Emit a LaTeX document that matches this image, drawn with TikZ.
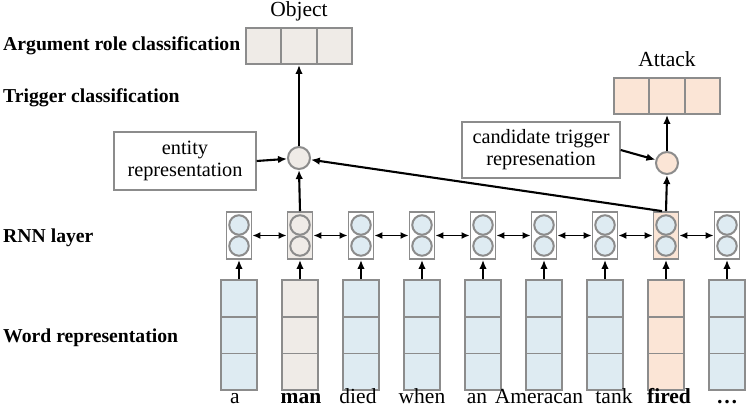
\documentclass[tikz,border=0pt]{standalone}
\usepackage{fontspec}
\setmainfont{Liberation Serif}
\usetikzlibrary{arrows.meta}
\definecolor{cellblue}{HTML}{DEEBF2}
\definecolor{cellpeach}{HTML}{FBE5D6}
\definecolor{cellgrey}{HTML}{EFEBE7}
\definecolor{edgegrey}{HTML}{8C8C8C}
\tikzset{
	wordbox/.style={draw=edgegrey, line width=2pt, minimum width=36pt, minimum height=110pt, inner sep=0pt},
	rnnbox/.style={draw=edgegrey, line width=1.8pt, minimum width=25pt, minimum height=47pt, inner sep=0pt},
	unit/.style={circle, draw=edgegrey, line width=2pt, minimum size=19.5pt, inner sep=0pt},
	outcell/.style={draw=edgegrey, line width=1.8pt, minimum width=35.3pt, minimum height=36pt, inner sep=0pt},
	infobox/.style={draw=edgegrey, line width=1.4pt, align=center, inner sep=0pt, font=\fontsize{20.3}{22}\selectfont},
	layerlabel/.style={anchor=base west, inner sep=0pt, font=\fontsize{19.7}{21}\selectfont\bfseries},
	wordlabel/.style={anchor=base, inner sep=0pt, font=\fontsize{21.5}{22}\selectfont},
	arr/.style={-{Latex[length=9pt,width=7.5pt]}, line width=2.1pt},
	biarr/.style={{Latex[length=8pt,width=7pt]}-{Latex[length=8pt,width=7pt]}, line width=1.9pt},
}
\begin{document}
\begin{tikzpicture}[x=1pt,y=-1pt]
	\useasboundingbox (0,0) rectangle (747,414);
	% layer names
	\node[layerlabel] (argrole) at (3,51) {Argument role classification};
	\node[layerlabel] (trigcls) at (3,103) {Trigger classification};
	\node[layerlabel] (rnnlayer) at (3,243) {RNN layer};
	\node[layerlabel] (wordrep) at (3,342) {Word representation};
	% columns: word boxes, RNN cells, words
	\foreach \i/\tx/\w/\wfill/\rfill/\cfill in {1/235/a/cellblue/white/cellblue, 2/301/\textbf{man}/cellgrey/cellgrey/cellgrey, 3/358/died/cellblue/white/cellblue, 4/422/when/cellblue/white/cellblue, 5/477/an/cellblue/white/cellblue, 6/539/Ameracan/cellblue/white/cellblue, 7/614/tank/cellblue/white/cellblue, 8/669/\textbf{fired}/cellpeach/cellpeach/cellblue, 9/727/\textbf{\dots}/cellblue/white/cellblue} {
		\node[wordbox, fill=\wfill] (w\i) at ({178+61*\i},335) {};
		\draw[edgegrey, line width=1.6pt] ({160+61*\i},316.7) -- ++(36,0) ({160+61*\i},353.3) -- ++(36,0);
		\node[rnnbox, fill=\rfill] (r\i) at ({178+61*\i},235.5) {};
		\node[unit, fill=\cfill] (u\i) at ({178+61*\i},225) {};
		\node[unit, fill=\cfill] (d\i) at ({178+61*\i},246) {};
		\node[wordlabel] (t\i) at (\tx,403) {\w};
		\draw[arr] (w\i.north) -- (r\i.south);
	}
	\foreach \i [evaluate=\i as \j using int(\i+1)] in {1,...,8}
		\draw[biarr] (r\i.east) -- (r\j.west);
	% combined units
	\node[unit, fill=cellgrey, minimum size=22pt] (ent) at (299,158) {};
	\node[unit, fill=cellpeach, minimum size=22pt] (trg) at (667,163) {};
	\node[infobox, minimum width=142pt, minimum height=58pt] (entbox) at (185,161) {entity\\representation};
	\node[infobox, minimum width=158pt, minimum height=56pt] (candbox) at (541,150) {candidate trigger\\represenation};
	% output layers
	\node[outcell, fill=cellgrey] (obj1) at (263.7,46) {};
	\node[outcell, fill=cellgrey] (obj2) at (299,46) {};
	\node[outcell, fill=cellgrey] (obj3) at (334.3,46) {};
	\node[outcell, fill=cellpeach] (att1) at (631.7,96) {};
	\node[outcell, fill=cellpeach] (att2) at (667,96) {};
	\node[outcell, fill=cellpeach] (att3) at (702.3,96) {};
	\node[wordlabel] (objname) at (299,17) {Object};
	\node[wordlabel] (attname) at (667,67) {Attack};
	% connections
	\draw[arr] (r2.north) -- (ent.south);
	\draw[arr] (r8.north) -- (trg.south);
	\draw[arr] ([xshift=-4pt]r8.north) -- (ent);
	\draw[arr] (entbox.east) -- (ent);
	\draw[arr] (candbox.east) -- (trg);
	\draw[arr] (ent.north) -- (obj2.south);
	\draw[arr] (trg.north) -- (att2.south);
\end{tikzpicture}
\end{document}
